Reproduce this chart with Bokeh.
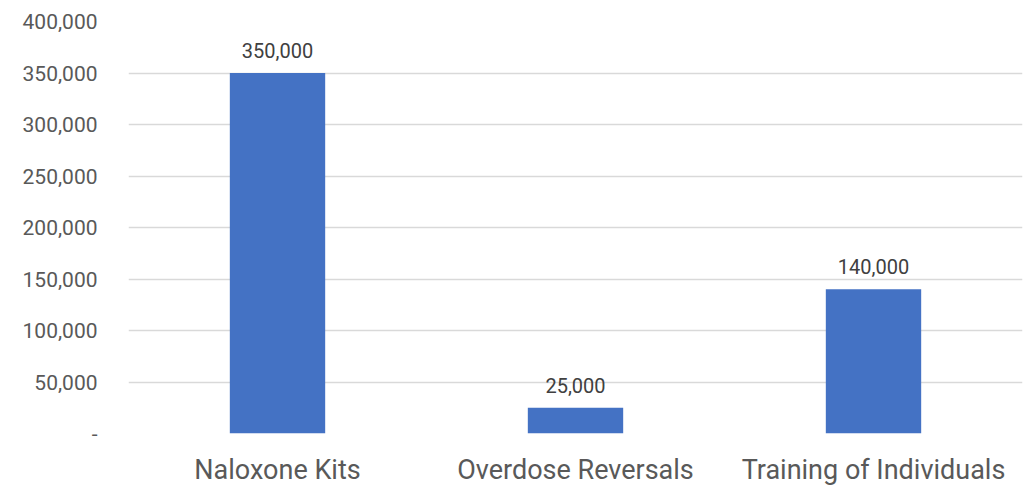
from bokeh.plotting import figure
from bokeh.models import ColumnDataSource, NumeralTickFormatter, FactorRange, LabelSet, Range1d, FixedTicker
from bokeh.core.properties import value
from bokeh.embed import file_html
from bokeh.resources import INLINE

categories = ["Naloxone Kits", "Overdose Reversals", "Training of Individuals"]
values = [350000, 25000, 140000]
labels = ["350,000", "25,000", "140,000"]
y_ticks = [0, 50000, 100000, 150000, 200000, 250000, 300000, 350000, 400000]

src = ColumnDataSource(dict(cat=categories, val=values, lab=labels))

p = figure(width=1030, height=488, x_range=FactorRange(*categories, range_padding=0),
           y_range=Range1d(0, 400000), output_backend="svg", toolbar_location=None,
           min_border_left=128, min_border_right=8, min_border_top=21, min_border_bottom=55)
p.outline_line_color = None
p.background_fill_color = "white"
p.border_fill_color = "white"

p.vbar(x="cat", top="val", width=0.32, source=src, fill_color="#4472C4", line_color=None)

p.add_layout(LabelSet(x="cat", y="val", text="lab", source=src, text_align="center",
                      text_baseline="bottom", y_offset=15, text_font=value("Roboto"),
                      text_font_size="20px", text_color="#404040"))

p.yaxis.ticker = FixedTicker(ticks=y_ticks)
p.yaxis.formatter = NumeralTickFormatter(format="0,0")
p.yaxis.major_label_overrides = {0: "-"}
p.yaxis.major_label_text_font = "Roboto"
p.yaxis.major_label_text_font_size = "21px"
p.yaxis.major_label_text_color = "#595959"
p.yaxis.major_label_standoff = 25
p.yaxis.axis_line_color = None
p.yaxis.major_tick_line_color = None
p.yaxis.minor_tick_line_color = None

p.xaxis.major_label_text_font = "Roboto"
p.xaxis.major_label_text_font_size = "27px"
p.xaxis.major_label_text_color = "#595959"
p.xaxis.major_label_standoff = 14
p.xaxis.axis_line_color = None
p.xaxis.major_tick_line_color = None

p.xgrid.grid_line_color = None
p.ygrid.grid_line_color = "#d9d9d9"
p.ygrid.grid_line_width = 1.5

open("out.html", "w").write(file_html(p, INLINE))
